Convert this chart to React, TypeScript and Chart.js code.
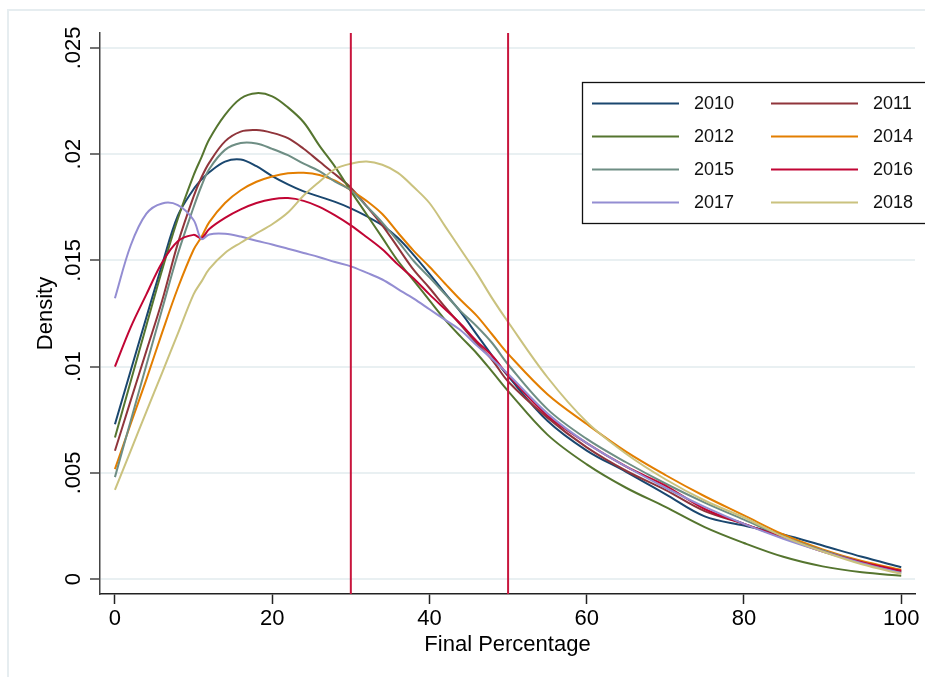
import React, { useEffect, useRef } from 'react';
import { Chart, registerables } from 'chart.js';

Chart.register(...registerables);

// Evaluation points along the "Final Percentage" axis
const xGrid = [0, 2, 4, 6, 8, 10, 11, 12, 14, 16, 18, 20, 22, 24, 26, 28, 30, 32, 34, 36, 38, 40, 42, 44, 46, 48, 50, 55, 60, 65, 70, 75, 80, 85, 90, 95, 100];

// Kernel density estimates by year
const density2010 = [0.00729, 0.00981, 0.01232, 0.0148, 0.0171, 0.01835, 0.0188, 0.01915, 0.01965, 0.01975, 0.01943, 0.01897, 0.01858, 0.01825, 0.018, 0.01775, 0.01745, 0.01708, 0.01665, 0.01605, 0.01525, 0.01437, 0.01345, 0.01255, 0.01152, 0.0105, 0.00955, 0.00745, 0.00605, 0.00505, 0.004, 0.00295, 0.00252, 0.0021, 0.00158, 0.00105, 0.00056];
const density2011 = [0.00604, 0.0084, 0.01074, 0.0131, 0.0158, 0.018, 0.0189, 0.0196, 0.0206, 0.02106, 0.02113, 0.021, 0.02075, 0.02025, 0.01965, 0.01905, 0.01842, 0.01755, 0.01665, 0.0156, 0.01455, 0.0137, 0.0128, 0.01195, 0.0111, 0.0103, 0.0093, 0.0076, 0.0062, 0.0051, 0.0042, 0.0032, 0.0026, 0.00195, 0.00135, 0.0008, 0.00036];
const density2012 = [0.00666, 0.0093, 0.01194, 0.01455, 0.01696, 0.019, 0.01985, 0.0207, 0.02185, 0.02262, 0.02287, 0.02272, 0.0222, 0.0215, 0.0204, 0.0194, 0.01826, 0.01717, 0.01607, 0.01497, 0.01405, 0.01312, 0.0122, 0.0114, 0.01063, 0.00975, 0.00885, 0.0068, 0.0054, 0.0043, 0.0034, 0.00245, 0.0017, 0.00105, 0.0006, 0.00032, 0.00016];
const density2014 = [0.00518, 0.0073, 0.0094, 0.0116, 0.0137, 0.0155, 0.0161, 0.0168, 0.0177, 0.0183, 0.0187, 0.01895, 0.0191, 0.01912, 0.01902, 0.01875, 0.0183, 0.0178, 0.01718, 0.0163, 0.01545, 0.0147, 0.0139, 0.01312, 0.0124, 0.0115, 0.0106, 0.0087, 0.0073, 0.006, 0.0049, 0.0039, 0.003, 0.0021, 0.0014, 0.00085, 0.00044];
const density2015 = [0.0048, 0.00744, 0.01008, 0.0127, 0.0153, 0.0175, 0.0185, 0.0193, 0.0202, 0.02052, 0.0205, 0.02025, 0.01995, 0.01955, 0.0192, 0.0187, 0.0183, 0.01755, 0.01678, 0.0159, 0.01497, 0.0142, 0.0134, 0.0126, 0.0119, 0.0111, 0.0101, 0.008, 0.0066, 0.0055, 0.0045, 0.0036, 0.0028, 0.002, 0.00135, 0.0008, 0.00033];
const density2016 = [0.01, 0.01185, 0.0134, 0.0149, 0.0159, 0.0162, 0.01605, 0.01648, 0.017, 0.0174, 0.0177, 0.01788, 0.01793, 0.0178, 0.01752, 0.01712, 0.01665, 0.0161, 0.01552, 0.0148, 0.01415, 0.0134, 0.0127, 0.012, 0.0112, 0.0105, 0.0096, 0.0077, 0.0064, 0.0053, 0.0044, 0.0033, 0.0026, 0.00195, 0.0013, 0.0008, 0.00039];
const density2017 = [0.01322, 0.0157, 0.0172, 0.01768, 0.0176, 0.0169, 0.016, 0.01622, 0.01625, 0.01612, 0.01592, 0.01575, 0.01555, 0.01535, 0.01515, 0.01492, 0.01472, 0.01442, 0.0141, 0.01365, 0.0132, 0.0127, 0.0122, 0.0117, 0.011, 0.01035, 0.00965, 0.0078, 0.0064, 0.0053, 0.0043, 0.0034, 0.0026, 0.0019, 0.0013, 0.00075, 0.00028];
const density2018 = [0.0042, 0.00604, 0.00788, 0.00971, 0.01155, 0.0134, 0.014, 0.0146, 0.01535, 0.01583, 0.01627, 0.0167, 0.01725, 0.01805, 0.0187, 0.0193, 0.01955, 0.01965, 0.0195, 0.01912, 0.01845, 0.0177, 0.0166, 0.0155, 0.0144, 0.0132, 0.0121, 0.0095, 0.0074, 0.0059, 0.0047, 0.0037, 0.0029, 0.002, 0.0013, 0.0007, 0.00025];

const seriesLabels = ['2010', '2011', '2012', '2014', '2015', '2016', '2017', '2018'];
const seriesValues = [density2010, density2011, density2012, density2014, density2015, density2016, density2017, density2018];
const seriesColors = ['#1a476f', '#90353b', '#55752f', '#e37e00', '#6e8e84', '#c10534', '#938dd2', '#cac27e'];

// Cut-off reference lines
const refLines = [30, 50];
const refColor = '#c8153d';

// Axes
const xRange = [-1.9, 101.75];
const yRange = [-0.0007, 0.0257];
const xTickValues = [0, 20, 40, 60, 80, 100];
const yTickValues = [0, 0.005, 0.01, 0.015, 0.02, 0.025];
const yTickLabels = ['0', '.005', '.01', '.015', '.02', '.025'];

const FONT = '"Liberation Sans", Arial, Helvetica, sans-serif';

const framePlugin = {
  id: 'graphFrame',
  beforeDraw(chart: any) {
    const ctx = chart.ctx;
    ctx.save();
    ctx.fillStyle = '#ffffff';
    ctx.fillRect(0, 0, chart.width, chart.height);
    ctx.strokeStyle = '#e6edf0';
    ctx.lineWidth = 2;
    ctx.strokeRect(8, 10, chart.width + 10, chart.height + 10);
    ctx.restore();
  },
};

const legendPlugin = {
  id: 'boxLegend',
  afterDraw(chart: any) {
    const ctx = chart.ctx;
    const left = 582.5;
    const top = 82.5;
    ctx.save();
    ctx.strokeStyle = '#111';
    ctx.lineWidth = 1.3;
    ctx.fillStyle = '#ffffff';
    ctx.fillRect(left, top, chart.width - left + 10, 141);
    ctx.strokeRect(left, top, chart.width - left + 10, 141);
    ctx.font = `18px ${FONT}`;
    ctx.textBaseline = 'middle';
    ctx.textAlign = 'left';
    seriesLabels.forEach((label, i) => {
      const row = Math.floor(i / 2);
      const col = i % 2;
      const y = 103.5 + row * 33;
      const x0 = 592 + col * 179;
      ctx.strokeStyle = seriesColors[i];
      ctx.lineWidth = 2;
      ctx.beginPath();
      ctx.moveTo(x0, y);
      ctx.lineTo(x0 + 87, y);
      ctx.stroke();
      ctx.fillStyle = '#111';
      ctx.fillText(label, x0 + 102, y + 1);
    });
    ctx.restore();
  },
};

export default function App() {
  const canvasRef = useRef<HTMLCanvasElement | null>(null);

  useEffect(() => {
    if (!canvasRef.current) return;

    const curveSets = seriesLabels.map((label, i) => ({
      label,
      data: xGrid.map((x, j) => ({ x, y: seriesValues[i][j] })),
      borderColor: seriesColors[i],
      backgroundColor: seriesColors[i],
      borderWidth: 2,
      pointRadius: 0,
      fill: false,
      tension: 0.35,
      order: seriesLabels.length - i + 1,
    }));

    const refSets = refLines.map((x) => ({
      label: `x = ${x}`,
      data: [
        { x, y: yRange[0] },
        { x, y: yRange[1] },
      ],
      borderColor: refColor,
      borderWidth: 2,
      pointRadius: 0,
      fill: false,
      tension: 0,
      order: 0,
    }));

    const chart = new Chart(canvasRef.current, {
      type: 'line',
      data: { datasets: [...curveSets, ...refSets] },
      options: {
        animation: false,
        responsive: false,
        maintainAspectRatio: false,
        devicePixelRatio: 1,
        layout: { padding: { top: 33, right: 10, left: 0, bottom: 0 } },
        plugins: {
          legend: { display: false },
          tooltip: { enabled: false },
        },
        scales: {
          x: {
            type: 'linear',
            min: xRange[0],
            max: xRange[1],
            afterBuildTicks: (scale: any) => {
              scale.ticks = xTickValues.map((value) => ({ value }));
            },
            afterFit: (scale: any) => {
              scale.height = 83;
            },
            ticks: {
              autoSkip: false,
              maxRotation: 0,
              padding: 2,
              color: '#000',
              font: { family: FONT, size: 22 },
              callback: (value: any) => String(value),
            },
            grid: {
              drawOnChartArea: false,
              drawTicks: true,
              tickLength: 10,
              tickColor: '#222',
              tickWidth: 1.5,
            },
            border: { display: true, color: '#222', width: 1.5 },
            title: {
              display: true,
              text: 'Final Percentage',
              color: '#000',
              font: { family: FONT, size: 22 },
              padding: { top: 0, bottom: 19 },
            },
          },
          y: {
            type: 'linear',
            min: yRange[0],
            max: yRange[1],
            afterBuildTicks: (scale: any) => {
              scale.ticks = yTickValues.map((value) => ({ value }));
            },
            afterFit: (scale: any) => {
              scale.width = 100;
            },
            ticks: {
              autoSkip: false,
              minRotation: 90,
              maxRotation: 90,
              crossAlign: 'center',
              padding: -5,
              color: '#000',
              font: { family: FONT, size: 22 },
              callback: (value: any) => {
                const k = yTickValues.findIndex((v) => Math.abs(v - value) < 1e-9);
                return k >= 0 ? yTickLabels[k] : '';
              },
            },
            grid: {
              color: '#e9f0f2',
              lineWidth: 2,
              drawTicks: true,
              tickLength: 10,
              tickColor: '#444',
              tickWidth: 1.5,
            },
            border: { display: true, color: '#444', width: 1.5 },
            title: {
              display: true,
              text: 'Density',
              color: '#000',
              font: { family: FONT, size: 22 },
              padding: { top: 33, bottom: 0 },
            },
          },
        },
      },
      plugins: [framePlugin, legendPlugin],
    });

    return () => chart.destroy();
  }, []);

  return (
    <div style={{ position: 'absolute', left: 0, top: 0, width: 925, height: 677 }}>
      <canvas ref={canvasRef} width={925} height={677} style={{ display: 'block', width: 925, height: 677 }} />
    </div>
  );
}
